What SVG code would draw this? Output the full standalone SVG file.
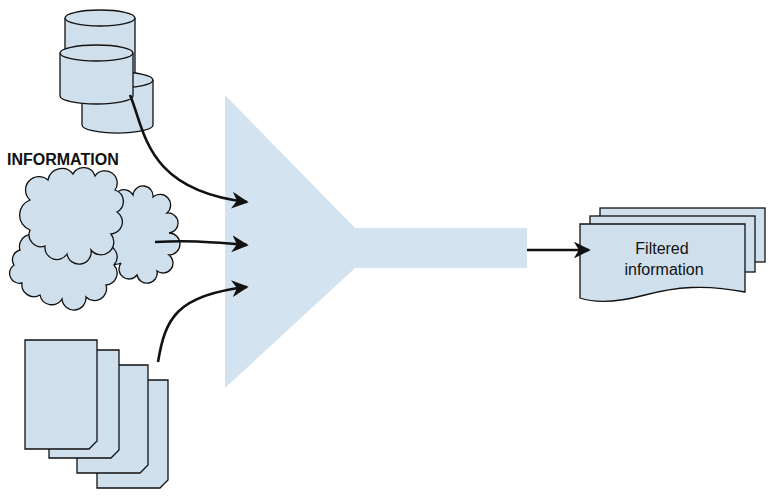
<svg xmlns="http://www.w3.org/2000/svg" width="777" height="498" viewBox="0 0 777 498">
<defs>
<style>
.s{fill:#cfdfec;stroke:#111;stroke-width:1.3}
.c{stroke:#111;stroke-width:2.6;fill:none;marker-end:url(#a)}
text{font-family:"Liberation Sans",Arial,sans-serif;fill:#111}
</style>
<marker id="a" viewBox="0 0 10 10" refX="9" refY="5" markerWidth="6.5" markerHeight="6.5" orient="auto" markerUnits="strokeWidth"><path d="M0,0 L10,5 L0,10 L3,5 z" fill="#111"/></marker>
</defs>
<rect width="777" height="498" fill="#fff"/>
<g id="funnel"><polygon points="225,95 355,228 527,228 527,268 355,268 225,388" fill="#d3e3ef"/></g>
<g id="databases">
<path class="s" d="M65,18 v55 a35,8 0 0 0 70,0 v-55"/><ellipse class="s" cx="100" cy="18" rx="35" ry="8"/>
<path class="s" d="M82,80 v45 a35,8 0 0 0 71,0 v-45"/><ellipse class="s" cx="117.5" cy="80" rx="35.5" ry="8"/>
<path class="s" d="M60,53 v43 a36.5,8 0 0 0 73,0 v-43"/><ellipse class="s" cx="96.5" cy="53" rx="36.5" ry="8"/>
</g>
<text x="7" y="165" font-size="16" font-weight="bold">INFORMATION</text>
<g id="clouds">
<path class="s" d="M115,205 a10,10 0 0 1 18,-10 a10,10 0 0 1 20,2 a10,10 0 0 1 14,16 a10,10 0 0 1 2,20 a10,10 0 0 1 0,22 a10,10 0 0 1 -12,16 a10,10 0 0 1 -20,4 a10,10 0 0 1 -16,-12 a12,12 0 0 1 -11,-23 a18,18 0 0 1 5,-35 z"/>
<path class="s" d="M20,250 a12,12 0 0 1 20,-12 a12,12 0 0 1 22,2 a12,12 0 0 1 23,-4 a12,12 0 0 1 20,9 a12,12 0 0 1 9,20 a12,12 0 0 1 -8,20 a12,12 0 0 1 -20,12 a12,12 0 0 1 -24,2 a12,12 0 0 1 -22,-4 a12,12 0 0 1 -18,-12 a10,10 0 0 1 -8,-18 a10,10 0 0 1 6,-15 z"/>
<path class="s" d="M30,200 a12,12 0 0 1 18,-20 a14,14 0 0 1 25,-6 a12,12 0 0 1 22,2 a12,12 0 0 1 20,14 a12,12 0 0 1 2,22 a12,12 0 0 1 -6,22 a12,12 0 0 1 -20,16 a12,12 0 0 1 -24,4 a12,12 0 0 1 -22,-8 a12,12 0 0 1 -15,-16 a16,16 0 0 1 0,-30 z"/>
</g>
<g id="documents">
<path class="s" d="M97,380 h71 v100 l-8,8 h-63 z"/>
<path class="s" d="M77,365 h71 v100 l-8,8 h-63 z"/>
<path class="s" d="M49,350 h70 v100 l-8,8 h-62 z"/>
<path class="s" d="M25,340 h72 v101 l-8,8 h-64 z"/>
</g>
<g id="filtered">
<rect class="s" x="600" y="208" width="165" height="54"/>
<rect class="s" x="590" y="216" width="165" height="56"/>
<path class="s" d="M580,224 h165 v68 c-40,-8 -70,-5 -100,3 c-30,8 -50,8 -65,3 z"/>
<text x="662" y="254" font-size="16" text-anchor="middle">Filtered</text>
<text x="664" y="275" font-size="16" text-anchor="middle">information</text>
</g>
<g id="connectors">
<path class="c" d="M130,95 C145,130 145,190 247,202"/>
<path class="c" d="M155,242 C190,240 210,242 247,245"/>
<path class="c" d="M158,362 C165,320 175,295 247,287"/>
<path class="c" d="M527,250 L589,250"/>
</g>
</svg>
